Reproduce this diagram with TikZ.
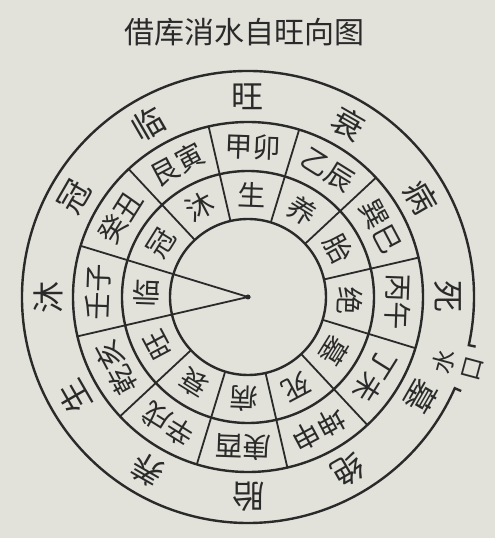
\documentclass[tikz,border=0pt]{standalone}
\usepackage{fontspec}
\setmainfont{Noto Sans CJK SC}
\definecolor{paper}{RGB}{226,226,219}
\definecolor{ink}{RGB}{42,42,42}
\tikzset{
    ring/.style={draw=ink, line width=2.4pt},
    spoke/.style={draw=ink, line width=1.8pt},
    outerch/.style={font=\fontsize{32}{32}\selectfont, text=ink, inner sep=0pt},
    cellch/.style={font=\fontsize{28}{28}\selectfont, text=ink, inner sep=0pt},
}

\begin{document}
\begin{tikzpicture}[x=1pt, y=1pt]
    \fill[paper] (-248,-241) rectangle (247,297);
    \useasboundingbox (-248,-241) rectangle (247,297);
    \coordinate (O) at (0, 0);
    \node[font=\fontsize{30}{30}\selectfont, text=ink] (title) at (-3, 265) {借库消水自旺向图};
    % rings
    \draw[ring] (O) circle (78);
    \draw[ring] (O) circle (126);
    \draw[ring] (O) circle (175);
    \draw[ring] (-12.3:233) -- (-12.3:226) arc (-12.3:336.2:226) -- (336.2:233);
    % spokes and the wedge
    \foreach \a in {0,...,11}
        \draw[spoke] (73+30*\a:78) -- (73+30*\a:175);
    \draw[spoke] (163:78) -- (O) -- (193:78);
    \fill[ink] (O) circle (2.5);
    % texts
    \foreach \s [count=\i from 0] in {旺,衰,病,死,墓,绝,胎,养,生,沐,冠,临}
        \node[outerch, rotate=-30*\i] (out-\i) at (90-30*\i:200) {\s};
    \foreach \s [count=\i from 0] in {甲卯,乙辰,巽巳,丙午,丁未,坤申,庚酉,辛戌,乾亥,壬子,癸丑,艮寅}
        \node[cellch, rotate=-2-30*\i] (mid-\i) at (88-30*\i:150) {\s};
    \foreach \s [count=\i from 0] in {生,养,胎,绝,墓,死,病,衰,旺,临,冠,沐}
        \node[cellch, rotate=-2-30*\i] (in-\i) at (88-30*\i:102) {\s};
    \node[font=\fontsize{24}{29}\selectfont, text=ink, inner sep=0pt, align=center, rotate=75] (shuikou) at (-18:220) {水\\口};
\end{tikzpicture}
\end{document}
